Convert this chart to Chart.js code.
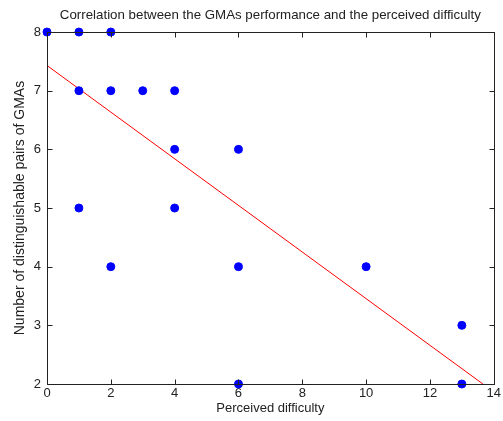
<!DOCTYPE html>
<html><head><meta charset="utf-8">
<script src="https://cdn.jsdelivr.net/npm/chart.js@4/dist/chart.umd.min.js"></script>
<style>html,body{margin:0;padding:0;background:#fff}#w{width:503px;height:421px}</style>
</head><body><div id="w"><canvas id="c"></canvas></div>
<script>
const difficulty = [0, 1, 2, 1, 2, 3, 4, 4, 6, 1, 4, 2, 6, 10, 13, 6, 13];
const pairs      = [8, 8, 8, 7, 7, 7, 7, 6, 6, 5, 5, 4, 4, 4, 3, 2, 2];
const fitX = [0, 13.66];
const fitY = [7.43, 2.0];
const xTicks = [0, 2, 4, 6, 8, 10, 12, 14];
const yTicks = [2, 3, 4, 5, 6, 7, 8];
const titleText = 'Correlation between the GMAs performance and the perceived difficulty';
const xTitle = 'Perceived difficulty';
const yTitle = 'Number of distinguishable pairs of GMAs';

const font = {family: '"Liberation Sans", Arial, sans-serif', size: 13, weight: 'normal'};
const boxPlugin = {
  id: 'box',
  afterDatasetsDraw(chart) {
    const {ctx, chartArea: a, scales} = chart;
    ctx.save();
    ctx.strokeStyle = '#222';
    ctx.lineWidth = 1;
    ctx.beginPath();
    const L = Math.round(a.left) + 0.5, R = Math.round(a.right) + 0.5, T = Math.round(a.top) + 0.5, B = Math.round(a.bottom) + 0.5;
    ctx.rect(L, T, R - L, B - T);
    const len = 5;
    xTicks.forEach(v => {
      const x = Math.round(scales.x.getPixelForValue(v)) + 0.5;
      ctx.moveTo(x, B); ctx.lineTo(x, B - len);
      ctx.moveTo(x, T); ctx.lineTo(x, T + len);
    });
    yTicks.forEach(v => {
      const y = Math.round(scales.y.getPixelForValue(v)) + 0.5;
      ctx.moveTo(L, y); ctx.lineTo(L + len, y);
      ctx.moveTo(R, y); ctx.lineTo(R - len, y);
    });
    ctx.stroke();
    ctx.restore();
  }
};

new Chart(document.getElementById('c'), {
  type: 'scatter',
  data: {
    datasets: [
      {
        data: difficulty.map((x, i) => ({x, y: pairs[i]})),
        backgroundColor: '#0000ff', borderColor: '#0000ff',
        pointRadius: 4, pointHoverRadius: 4, clip: false, order: 1
      },
      {
        type: 'line',
        data: fitX.map((x, i) => ({x, y: fitY[i]})),
        borderColor: '#ff0000', borderWidth: 1, pointRadius: 0, fill: false, order: 2
      }
    ]
  },
  options: {
    responsive: true, maintainAspectRatio: false, animation: false,
    devicePixelRatio: 1,
    layout: {padding: {left: 0, right: 8, top: 0, bottom: 0}},
    plugins: {
      legend: {display: false}, tooltip: {enabled: false},
      title: {display: true, fullSize: false, text: titleText, color: '#222', font: {...font, size: 13.3}, padding: {top: 7, bottom: 9.1}}
    },
    scales: {
      x: {
        type: 'linear', min: 0, max: 14,
        afterFit(s) { s.height = 37; },
        afterBuildTicks(s) { s.ticks = xTicks.map(v => ({value: v})); },
        grid: {display: true, drawOnChartArea: false, drawTicks: false},
        border: {display: false},
        ticks: {color: '#222', font, padding: 2, maxRotation: 0},
        title: {display: true, text: xTitle, color: '#222', font, padding: {top: 0, bottom: 5}}
      },
      y: {
        type: 'linear', min: 2, max: 8,
        afterFit(s) { s.width = 47; },
        afterBuildTicks(s) { s.ticks = yTicks.map(v => ({value: v})); },
        grid: {display: true, drawOnChartArea: false, drawTicks: false},
        border: {display: false},
        ticks: {color: '#222', font, padding: 6},
        title: {display: true, text: yTitle, color: '#222', font: {...font, size: 14}, padding: {top: 12, bottom: 0}}
      }
    }
  },
  plugins: [boxPlugin]
});
</script></body></html>
